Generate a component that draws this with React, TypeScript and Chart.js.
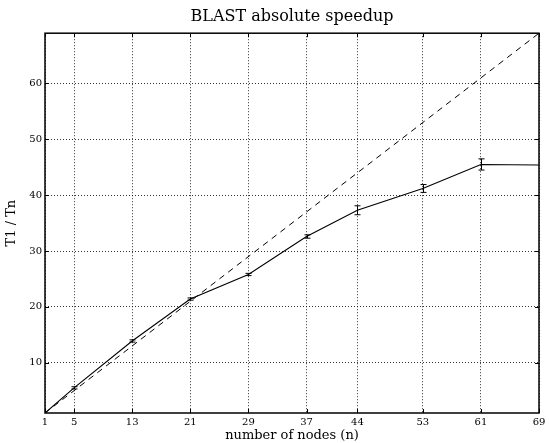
import React, { useEffect, useRef } from "react";
import { Chart, registerables } from "chart.js";

Chart.register(...registerables);

const nodes = [1, 5, 13, 21, 29, 37, 44, 53, 61, 69];
const speedup = [1, 5.5, 13.9, 21.4, 25.8, 32.6, 37.3, 41.2, 45.5, 45.4];
const speedupErr = [0, 0.2, 0.2, 0.2, 0.2, 0.3, 0.8, 0.7, 1.0, 0];
const idealNodes = [1, 69];
const idealSpeedup = [1, 69];
const xTicks = [1, 5, 13, 21, 29, 37, 44, 53, 61, 69];
const yTicks = [10, 20, 30, 40, 50, 60];

const SERIF = "'DejaVu Serif', serif";

const errorBarPlugin = {
  id: "errorBars",
  afterDatasetsDraw(chart: any) {
    const { ctx, scales } = chart;
    const x = scales.x;
    const y = scales.y;
    ctx.save();
    ctx.strokeStyle = "#000";
    ctx.lineWidth = 1;
    nodes.forEach((n, i) => {
      const e = speedupErr[i];
      if (!e) return;
      const px = Math.round(x.getPixelForValue(n)) + 0.5;
      const top = y.getPixelForValue(speedup[i] + e);
      const bot = y.getPixelForValue(speedup[i] - e);
      ctx.beginPath();
      ctx.moveTo(px, top);
      ctx.lineTo(px, bot);
      ctx.moveTo(px - 3, top);
      ctx.lineTo(px + 3, top);
      ctx.moveTo(px - 3, bot);
      ctx.lineTo(px + 3, bot);
      ctx.stroke();
    });
    ctx.restore();
  },
};

// center the title over the plot area (like matplotlib)
const titleCenterPlugin = {
  id: "titleCenter",
  afterLayout(chart: any) {
    const tb = chart.titleBlock;
    if (tb) {
      tb.left = chart.chartArea.left;
      tb.right = chart.chartArea.right;
    }
  },
};

const framePlugin = {
  id: "frame",
  afterDraw(chart: any) {
    const { ctx, chartArea, scales } = chart;
    const { left, right, top, bottom } = chartArea;
    ctx.save();
    ctx.strokeStyle = "#000";
    ctx.lineWidth = 1;
    ctx.beginPath();
    scales.x.ticks.forEach((t: any) => {
      const px = Math.round(scales.x.getPixelForValue(t.value)) + 0.5;
      ctx.moveTo(px, bottom);
      ctx.lineTo(px, bottom - 4);
      ctx.moveTo(px, top);
      ctx.lineTo(px, top + 4);
    });
    scales.y.ticks.forEach((t: any) => {
      const py = Math.round(scales.y.getPixelForValue(t.value)) + 0.5;
      ctx.moveTo(left, py);
      ctx.lineTo(left + 4, py);
      ctx.moveTo(right, py);
      ctx.lineTo(right - 4, py);
    });
    ctx.stroke();
    ctx.lineWidth = 1.5;
    ctx.strokeRect(left, top, right - left, bottom - top);
    ctx.restore();
  },
};

export default function App() {
  const canvasRef = useRef<HTMLCanvasElement | null>(null);

  useEffect(() => {
    document.body.style.margin = "0";
    const canvas = canvasRef.current;
    if (!canvas) return;
    const chart = new Chart(canvas, {
      type: "line",
      data: {
        datasets: [
          {
            label: "ideal",
            data: idealNodes.map((n, i) => ({ x: n, y: idealSpeedup[i] })),
            borderColor: "#000",
            borderWidth: 1,
            borderDash: [6, 5],
            pointRadius: 0,
            fill: false,
            tension: 0,
          },
          {
            label: "BLAST",
            data: nodes.map((n, i) => ({ x: n, y: speedup[i] })),
            borderColor: "#000",
            borderWidth: 1.1,
            pointRadius: 0,
            fill: false,
            tension: 0,
          },
        ],
      },
      options: {
        responsive: false,
        animation: false,
        layout: { padding: { left: 0, right: 10, top: 0, bottom: 0 } },
        plugins: {
          legend: { display: false },
          tooltip: { enabled: false },
          title: {
            display: true,
            text: "BLAST absolute speedup",
            color: "#000",
            font: { family: SERIF, size: 16, weight: "normal" },
            padding: { top: 7, bottom: 7 },
          },
        },
        scales: {
          x: {
            type: "linear",
            min: 1,
            max: 69,
            afterBuildTicks: (s: any) => {
              s.ticks = xTicks.map((v) => ({ value: v }));
            },
            afterFit: (s: any) => {
              s.height = 30;
            },
            ticks: {
              color: "#000",
              font: { family: SERIF, size: 10 },
              autoSkip: false,
              maxRotation: 0,
              padding: 3,
              callback: (v: any) => String(v),
            },
            grid: {
              color: "rgba(0,0,0,0.8)",
              lineWidth: 1,
              drawTicks: false,
            },
            border: { display: false, dash: [1, 2] },
            title: {
              display: true,
              text: "number of nodes (n)",
              color: "#000",
              font: { family: SERIF, size: 13 },
              padding: { top: 0, bottom: 0 },
            },
          },
          y: {
            type: "linear",
            min: 1,
            max: 69,
            afterBuildTicks: (s: any) => {
              s.ticks = yTicks.map((v) => ({ value: v }));
            },
            afterFit: (s: any) => {
              s.width = 45;
            },
            ticks: {
              color: "#000",
              font: { family: SERIF, size: 10 },
              padding: 3,
              callback: (v: any) => String(v),
            },
            grid: {
              color: "rgba(0,0,0,0.8)",
              lineWidth: 1,
              drawTicks: false,
            },
            border: { display: false, dash: [1, 2] },
            title: {
              display: true,
              text: "T1 / Tn",
              color: "#000",
              font: { family: SERIF, size: 13 },
              padding: { top: 4, bottom: 0 },
            },
          },
        },
      },
      plugins: [titleCenterPlugin, errorBarPlugin, framePlugin],
    } as any);
    return () => chart.destroy();
  }, []);

  return (
    <div style={{ width: 549, height: 443, background: "#fff" }}>
      <canvas ref={canvasRef} width={549} height={443} />
    </div>
  );
}
